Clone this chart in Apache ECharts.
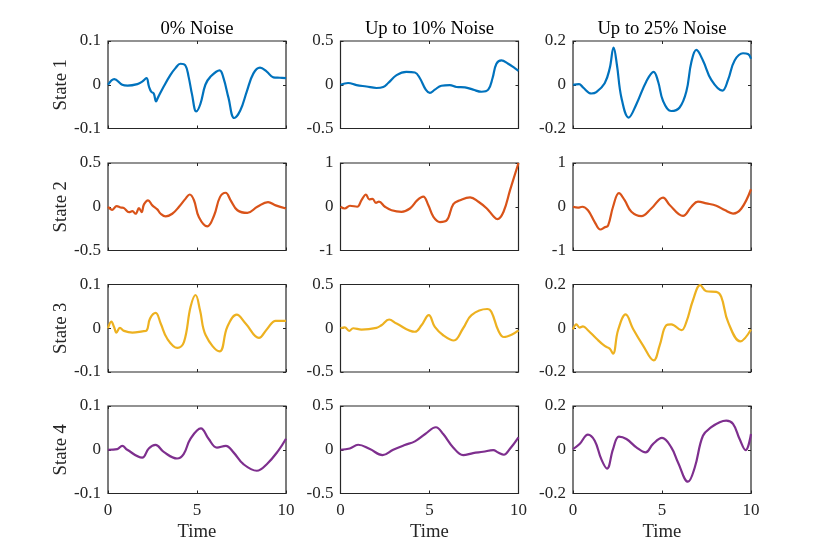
<!DOCTYPE html>
<html>
<head>
<meta charset="utf-8">
<script src="https://cdn.jsdelivr.net/npm/echarts@6/dist/echarts.min.js"></script>
<style>html,body{margin:0;padding:0;background:#fff}#c{width:830px;height:554px}</style>
</head>
<body>
<div id="c"></div>
<script>
// ---- data ([time, value]) ----
const columnTitles = ['0% Noise', 'Up to 10% Noise', 'Up to 25% Noise'];
const rowLabels = ['State 1', 'State 2', 'State 3', 'State 4'];
const xTicks = [0, 5, 10];
const yRanges = [
  [[-0.1, 0.1, 0.1], [-0.5, 0.5, 0.5], [-0.2, 0.2, 0.2]],
  [[-0.5, 0.5, 0.5], [-1, 1, 1], [-1, 1, 1]],
  [[-0.1, 0.1, 0.1], [-0.5, 0.5, 0.5], [-0.2, 0.2, 0.2]],
  [[-0.1, 0.1, 0.1], [-0.5, 0.5, 0.5], [-0.2, 0.2, 0.2]]
];

const state1_noise0 = [[0,0],[0.35,0.013],[0.8,0],[1.1,-0.002],[1.65,0.0015],[1.92,0.007],[2.16,0.015],[2.3,-0.004],[2.43,-0.016],[2.57,-0.02],[2.7,-0.038],[2.8,-0.03],[3.13,-0.004],[3.5,0.022],[3.79,0.038],[4.07,0.048],[4.35,0.044],[4.53,0.018],[4.72,-0.022],[4.96,-0.061],[5.19,-0.044],[5.47,0],[5.75,0.018],[6.27,0.033],[6.49,0.015],[6.77,-0.03],[7.09,-0.076],[7.43,-0.059],[7.8,-0.015],[8.17,0.026],[8.54,0.039],[8.92,0.03],[9.29,0.017],[9.66,0.016],[10,0.015]];
const state1_noise10 = [[0,0],[0.43,0.02],[0.9,-0.004],[1.46,-0.02],[2.02,-0.037],[2.4,-0.026],[2.68,0.02],[3.15,0.11],[3.7,0.148],[4.18,0.14],[4.46,0.074],[4.79,-0.056],[5.02,-0.093],[5.3,-0.056],[5.67,-0.011],[6.14,-0.004],[6.52,-0.026],[6.99,-0.03],[7.45,-0.056],[7.92,-0.08],[8.3,-0.056],[8.54,0.074],[8.76,0.24],[9.04,0.278],[9.42,0.24],[9.79,0.19],[10,0.16]];
const state1_noise25 = [[0,0],[0.34,0.003],[0.56,-0.012],[1.03,-0.04],[1.31,-0.034],[1.78,0.007],[2.06,0.074],[2.28,0.17],[2.47,0.089],[2.72,-0.059],[3.13,-0.15],[3.56,-0.089],[4.12,0.015],[4.53,0.059],[4.78,0.015],[5.06,-0.074],[5.52,-0.12],[5.99,-0.104],[6.37,-0.03],[6.65,0.104],[6.93,0.159],[7.3,0.111],[7.77,0.022],[8.39,-0.027],[8.71,0.022],[9.08,0.111],[9.55,0.144],[9.83,0.141],[10,0.119]];

const state2_noise0 = [[0,0],[0.24,-0.035],[0.49,0.008],[0.71,-0.008],[0.9,-0.016],[1.18,-0.062],[1.37,-0.05],[1.55,-0.08],[1.74,-0.016],[1.89,-0.062],[2.02,0.027],[2.25,0.074],[2.49,0.016],[2.77,-0.03],[2.96,-0.08],[3.24,-0.11],[3.61,-0.08],[3.99,0],[4.36,0.093],[4.59,0.14],[4.83,0.074],[5.11,-0.12],[5.58,-0.225],[5.96,-0.1],[6.29,0.11],[6.61,0.16],[6.89,0.074],[7.27,-0.04],[7.83,-0.07],[8.39,0],[8.99,0.054],[9.42,0.016],[10,-0.02]];
const state2_noise10 = [[0,0],[0.24,-0.04],[0.53,0.023],[0.94,0],[1.18,0.15],[1.43,0.28],[1.61,0.17],[1.8,0.18],[1.99,0.09],[2.16,0.115],[2.5,0],[2.87,-0.08],[3.43,-0.115],[3.9,-0.04],[4.32,0.15],[4.65,0.23],[4.93,0.04],[5.22,-0.23],[5.59,-0.35],[5.97,-0.31],[6.34,0.06],[6.72,0.15],[7.28,0.215],[7.75,0.115],[8.22,-0.04],[8.59,-0.215],[8.82,-0.285],[9.16,-0.115],[9.53,0.385],[10,1.0]];
const state2_noise25 = [[0,0],[0.28,-0.02],[0.52,0],[0.84,-0.08],[1.22,-0.35],[1.54,-0.52],[1.78,-0.47],[1.97,-0.43],[2.25,0],[2.58,0.31],[2.9,0.15],[3.28,-0.115],[3.84,-0.215],[4.4,-0.04],[5.06,0.21],[5.43,0.04],[6.18,-0.21],[6.65,0],[7.02,0.115],[7.49,0.077],[8.05,0.023],[8.52,-0.077],[8.99,-0.155],[9.46,-0.04],[10,0.4]];

const state3_noise0 = [[0,0],[0.19,0.015],[0.34,0.003],[0.47,-0.01],[0.67,0.001],[0.9,-0.006],[1.37,-0.01],[1.93,-0.007],[2.17,-0.005],[2.36,0.022],[2.68,0.035],[2.96,0.011],[3.33,-0.024],[3.9,-0.045],[4.27,-0.031],[4.64,0.049],[4.92,0.076],[5.17,0.041],[5.49,-0.016],[6.27,-0.053],[6.7,0.003],[7.23,0.031],[7.73,0.011],[8.48,-0.022],[8.95,-0.001],[9.42,0.017],[10,0.017]];
const state3_noise10 = [[0,0],[0.24,0.01],[0.49,-0.03],[0.71,0],[1.18,-0.015],[2.02,0.004],[2.3,0.034],[2.73,0.1],[3.15,0.053],[4.18,-0.04],[4.55,0.034],[4.96,0.15],[5.3,0.015],[5.77,-0.08],[6.37,-0.14],[6.89,0],[7.36,0.15],[8.24,0.22],[8.48,0.187],[8.86,-0.023],[9.18,-0.1],[9.61,-0.073],[10,-0.023]];
const state3_noise25 = [[0,-0.005],[0.19,0.018],[0.37,0.003],[0.56,0.009],[0.84,-0.009],[1.31,-0.047],[1.78,-0.081],[2.06,-0.093],[2.25,-0.116],[2.53,-0.009],[2.96,0.063],[3.37,-0.002],[3.93,-0.078],[4.53,-0.147],[4.87,-0.078],[5.24,0.014],[5.52,0.018],[6.09,-0.009],[6.37,0.029],[6.74,0.128],[7.15,0.197],[7.49,0.169],[8.05,0.166],[8.33,0.143],[8.71,0.029],[9.4,-0.06],[10,-0.006]];

const state4_noise0 = [[0,0],[0.52,0.0015],[0.8,0.009],[1.08,0],[1.92,-0.018],[2.29,0.003],[2.67,0.011],[3.13,-0.005],[3.88,-0.02],[4.25,-0.01],[4.63,0.025],[5.22,0.049],[5.65,0.025],[6.12,0.005],[6.62,0.009],[7.05,-0.006],[7.61,-0.033],[8.36,-0.048],[8.92,-0.033],[9.57,-0.002],[10,0.025]];
const state4_noise10 = [[0,0],[0.52,0.015],[0.99,0.057],[1.65,0.008],[2.36,-0.061],[2.96,0],[3.61,0.054],[4.18,0.096],[4.76,0.18],[5.36,0.257],[5.77,0.18],[6.33,0.027],[6.89,-0.061],[7.45,-0.038],[8.01,-0.023],[8.58,-0.004],[8.86,-0.031],[9.18,-0.057],[9.51,0.008],[10,0.142]];
const state4_noise25 = [[0,0.003],[0.37,0.026],[0.84,0.069],[1.22,0.041],[1.59,-0.043],[1.91,-0.086],[2.25,0.003],[2.58,0.06],[3,0.049],[3.56,0.011],[4.08,-0.012],[4.49,0.026],[5,0.054],[5.52,0.011],[5.9,-0.058],[6.46,-0.146],[6.84,-0.081],[7.3,0.064],[7.77,0.103],[8.24,0.126],[8.61,0.133],[8.99,0.118],[9.36,0.049],[9.7,-0.002],[10,0.072]];

const seriesData = [
  [state1_noise0, state1_noise10, state1_noise25],
  [state2_noise0, state2_noise10, state2_noise25],
  [state3_noise0, state3_noise10, state3_noise25],
  [state4_noise0, state4_noise10, state4_noise25]
];
const rowColors = ['#0072BD', '#D95319', '#EDB120', '#7E2F8E'];

// ---- layout ----
const colLeft = [108, 340.5, 573];
const colWidth = 178;
const rowTop = [41, 163, 284.5, 406];
const rowHeight = 87.5;
const ink = '#262626';
const font = 'Liberation Serif';

const grid = [], xAxis = [], yAxis = [], series = [];
for (let r = 0; r < 4; r++) {
  for (let c = 0; c < 3; c++) {
    const g = r * 3 + c;
    grid.push({left: colLeft[c], top: rowTop[r], width: colWidth, height: rowHeight,
      show: true, borderColor: ink, borderWidth: 1.2, backgroundColor: '#fff', containLabel: false});
    const tick = {show: true, inside: true, length: 3, lineStyle: {color: ink, width: 1}};
    const [ymin, ymax, yint] = yRanges[r][c];
    // bottom x
    xAxis.push({type: 'value', gridIndex: g, position: 'bottom', min: 0, max: 10, interval: 5,
      axisLine: {show: false, onZero: false}, axisTick: tick, splitLine: {show: false},
      axisLabel: {show: r === 3, color: ink, fontFamily: font, fontSize: 17, margin: 9},
      name: r === 3 ? 'Time' : '', nameLocation: 'middle', nameGap: 29,
      nameTextStyle: {color: ink, fontFamily: font, fontSize: 18.7}});
    // top x (mirror ticks + column title)
    xAxis.push({type: 'value', gridIndex: g, position: 'top', min: 0, max: 10, interval: 5,
      axisLine: {show: false, onZero: false}, axisTick: tick, splitLine: {show: false},
      axisLabel: {show: false},
      name: r === 0 ? columnTitles[c] : '', nameLocation: 'middle', nameGap: 2,
      nameTextStyle: {color: '#000', fontFamily: font, fontSize: 18.7}});
    // left y
    yAxis.push({type: 'value', gridIndex: g, position: 'left', min: ymin, max: ymax, interval: yint,
      axisLine: {show: false, onZero: false}, axisTick: tick, splitLine: {show: false},
      axisLabel: {show: true, color: ink, fontFamily: font, fontSize: 17, margin: 7},
      name: c === 0 ? rowLabels[r] : '', nameLocation: 'middle', nameGap: 34, nameRotate: 90,
      nameTextStyle: {color: ink, fontFamily: font, fontSize: 18.7}});
    // right y (mirror ticks)
    yAxis.push({type: 'value', gridIndex: g, position: 'right', min: ymin, max: ymax, interval: yint,
      axisLine: {show: false, onZero: false}, axisTick: tick, splitLine: {show: false},
      axisLabel: {show: false}});
    series.push({type: 'line', xAxisIndex: 2 * g, yAxisIndex: 2 * g, data: seriesData[r][c],
      smooth: 0.4, showSymbol: false, symbol: 'none', clip: true,
      lineStyle: {color: rowColors[r], width: 2.2}, z: 3});
  }
}

const chart = echarts.init(document.getElementById('c'), null, {renderer: 'canvas'});
chart.setOption({animation: false, backgroundColor: '#fff', grid, xAxis, yAxis, series});
</script>
</body>
</html>
